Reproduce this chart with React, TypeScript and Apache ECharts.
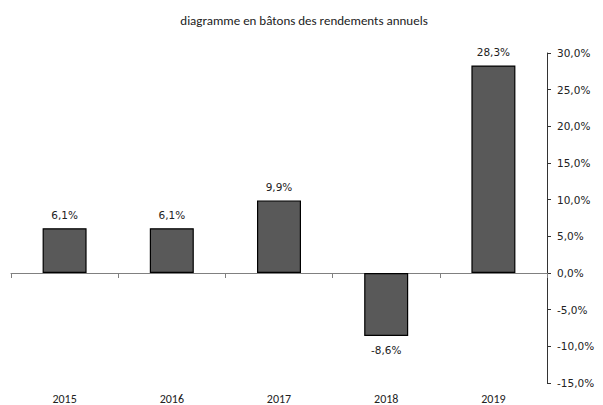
import React, { useEffect, useRef } from "react";
import * as echarts from "echarts";

const title = "diagramme en bâtons des rendements annuels";
const years = ["2015", "2016", "2017", "2018", "2019"];
const returns = [6.1, 6.1, 9.9, -8.6, 28.3];

const fmt = (v: number) => v.toFixed(1).replace(".", ",") + "%";
const verdana = "'DejaVu Sans', Verdana, sans-serif";
const calibri = "Carlito, Lato, sans-serif";

export default function App() {
  const ref = useRef<HTMLDivElement>(null);
  useEffect(() => {
    const chart = echarts.init(ref.current!, null, { renderer: "svg" });
    chart.setOption({
      animation: false,
      title: {
        text: title,
        left: 299,
        textAlign: "center",
        top: 9,
        textStyle: { fontFamily: calibri, fontSize: 13, fontWeight: "normal", color: "#222" },
      },
      grid: { left: 11, right: 56, top: 53, bottom: 20 },
      xAxis: [
        {
          type: "category",
          data: years,
          position: "bottom",
          axisLine: { show: false, onZero: false },
          axisTick: { show: false },
          axisLabel: { margin: 10, fontFamily: calibri, fontSize: 12, color: "#222" },
        },
        {
          type: "category",
          data: years,
          position: "bottom",
          axisLine: { show: true, onZero: true, lineStyle: { color: "#808080", width: 1 } },
          axisTick: { show: true, length: 5, alignWithLabel: false, lineStyle: { color: "#808080" } },
          axisLabel: { show: false },
        },
      ],
      yAxis: {
        type: "value",
        position: "right",
        min: -15,
        max: 30,
        interval: 5,
        splitLine: { show: false },
        axisLine: { show: true, onZero: false, lineStyle: { color: "#333", width: 1 } },
        axisTick: { show: true, length: 4, lineStyle: { color: "#333" } },
        axisLabel: { margin: 10, formatter: (v: number) => fmt(v), fontFamily: verdana, fontSize: 10.5, color: "#222" },
      },
      series: [
        {
          type: "bar",
          xAxisIndex: 0,
          barWidth: 44,
          data: returns.map((v) => ({
            value: v,
            label: { position: v < 0 ? "bottom" : "top" },
          })),
          itemStyle: { color: "#595959", borderColor: "#000", borderWidth: 1.2 },
          label: {
            show: true,
            distance: 8,
            formatter: (p: any) => fmt(p.value),
            fontFamily: verdana,
            fontSize: 10.5,
            color: "#222",
          },
        },
      ],
    });
    return () => chart.dispose();
  }, []);
  return <div ref={ref} style={{ width: 603, height: 405, position: "absolute", left: 0, top: 0 }} />;
}
